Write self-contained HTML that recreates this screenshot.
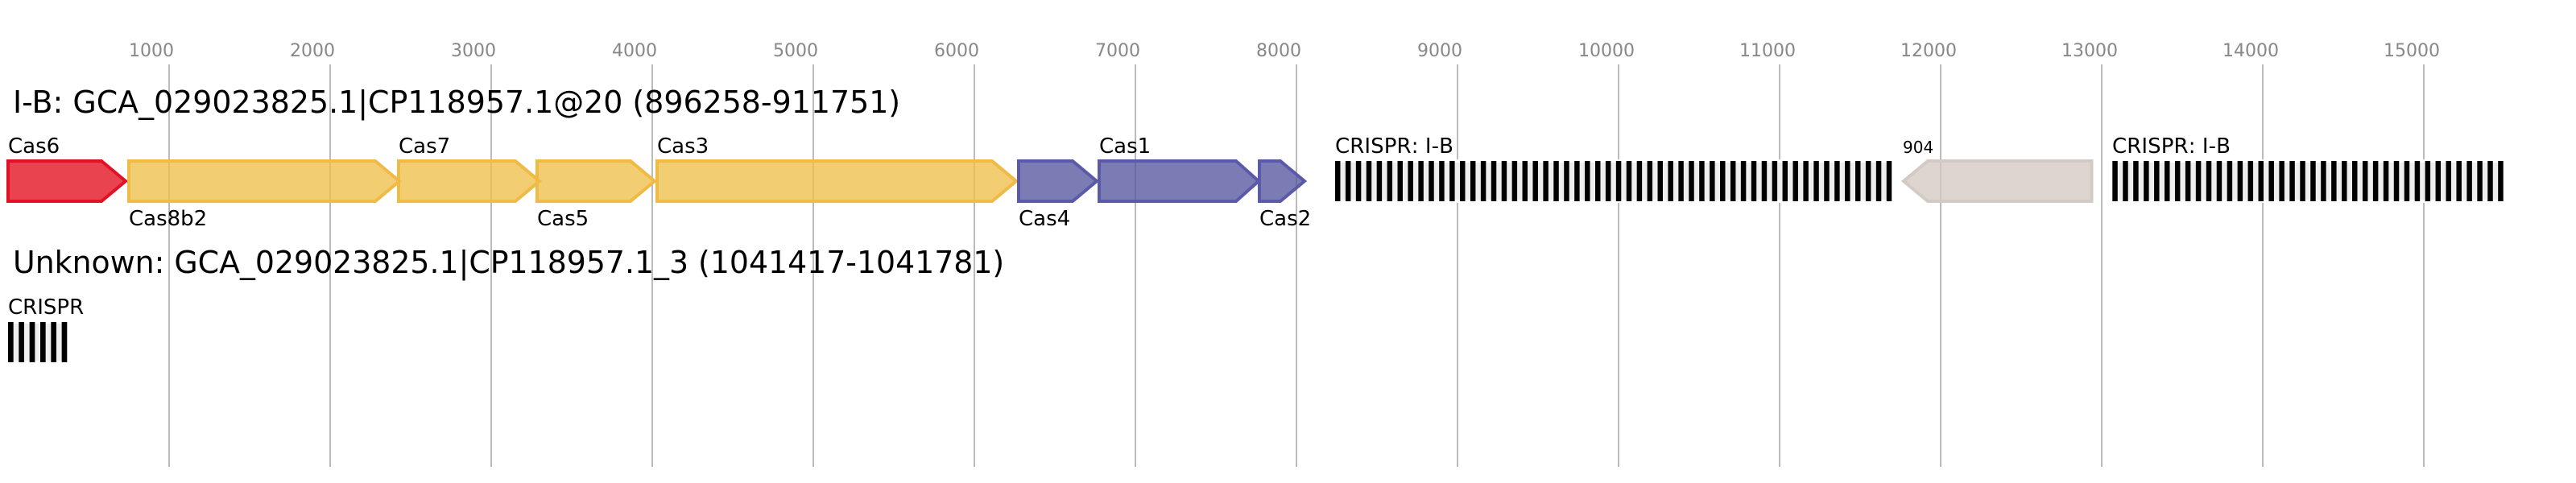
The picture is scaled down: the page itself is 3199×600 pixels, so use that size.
<!DOCTYPE html>
<html>
<head>
<meta charset="utf-8">
<style>
html,body{margin:0;padding:0;background:#fff;width:3199px;height:600px;overflow:hidden}
svg{display:block}
text{font-family:"DejaVu Sans",sans-serif;fill:#000}
.t{font-size:22px;fill:#888}
.l{font-size:26px}
.k{font-kerning:none}
.h{font-size:37.85px}
.g{stroke:#bbb;stroke-width:2}
.a{stroke-width:4;stroke-miterlimit:10}
.r{stroke:#e11226;fill:rgba(225,10,26,.77)}
.y{stroke:#efba46;fill:rgba(238,190,72,.77)}
.b{stroke:#5a5aa8;fill:rgba(85,85,159,.77)}
.n{stroke:#d3cac3;fill:rgba(210,200,194,.77)}
.c{fill:#eee;stroke:#fff;stroke-width:4}
.d{stroke:#000;stroke-width:50}
</style>
</head>
<body>
<svg xmlns="http://www.w3.org/2000/svg" width="3199" height="600" viewBox="0 0 3199 600">
<rect width="3199" height="600" fill="#fff"/>
<g class="g">
<line x1="210" x2="210" y1="80" y2="580"/>
<line x1="410" x2="410" y1="80" y2="580"/>
<line x1="610" x2="610" y1="80" y2="580"/>
<line x1="810" x2="810" y1="80" y2="580"/>
<line x1="1010" x2="1010" y1="80" y2="580"/>
<line x1="1210" x2="1210" y1="80" y2="580"/>
<line x1="1410" x2="1410" y1="80" y2="580"/>
<line x1="1610" x2="1610" y1="80" y2="580"/>
<line x1="1810" x2="1810" y1="80" y2="580"/>
<line x1="2010" x2="2010" y1="80" y2="580"/>
<line x1="2210" x2="2210" y1="80" y2="580"/>
<line x1="2410" x2="2410" y1="80" y2="580"/>
<line x1="2610" x2="2610" y1="80" y2="580"/>
<line x1="2810" x2="2810" y1="80" y2="580"/>
<line x1="3010" x2="3010" y1="80" y2="580"/>
</g>
<g class="t">
<text class="t" x="160" y="70">1000</text>
<text class="t" x="360" y="70">2000</text>
<text class="t" x="560" y="70">3000</text>
<text class="t" x="760" y="70">4000</text>
<text class="t" x="960" y="70">5000</text>
<text class="t" x="1160" y="70">6000</text>
<text class="t" x="1360" y="70">7000</text>
<text class="t" x="1560" y="70">8000</text>
<text class="t" x="1760" y="70">9000</text>
<text class="t" x="1960" y="70">10000</text>
<text class="t" x="2160" y="70">11000</text>
<text class="t" x="2360" y="70">12000</text>
<text class="t" x="2560" y="70">13000</text>
<text class="t" x="2760" y="70">14000</text>
<text class="t" x="2960" y="70">15000</text>
</g>
<text class="h" x="16" y="140" style="font-size:37.92px">I-B: GCA_029023825.1|CP118957.1@20 (896258-911751)</text>
<text class="h" x="16" y="339">Unknown: GCA_029023825.1|CP118957.1_3 (1041417-1041781)</text>

<polygon class="a r" points="10,200 126,200 156,225 126,250 10,250"/>
<polygon class="a y" points="160,200 466,200 496,225 466,250 160,250"/>
<polygon class="a y" points="495,200 640,200 670,225 640,250 495,250"/>
<polygon class="a y" points="667,200 783,200 813,225 783,250 667,250"/>
<polygon class="a y" points="816,200 1232,200 1262,225 1232,250 816,250"/>
<polygon class="a b" points="1265,200 1332,200 1362,225 1332,250 1265,250"/>
<polygon class="a b" points="1365,200 1535,200 1563,225 1535,250 1365,250"/>
<polygon class="a b" points="1564,200 1590,200 1620,225 1590,250 1564,250"/>
<polygon class="a n" points="2597.5,200 2394,200 2364,225 2394,250 2597.5,250"/>

<rect class="c" x="1658" y="200" width="691.3" height="50"/>
<line class="d" x1="1658" x2="2349.3" y1="225" y2="225" stroke-dasharray="6.46 6.46"/>
<rect class="c" x="2623.3" y="200" width="485.4" height="50"/>
<line class="d" x1="2623.3" x2="3108.7" y1="225" y2="225" stroke-dasharray="6.472 6.472"/>
<rect class="c" x="10" y="400" width="73.3" height="50"/>
<line class="d" x1="10" x2="83.3" y1="425" y2="425" stroke-dasharray="6.667 6.667"/>

<text class="l" x="10" y="190">Cas6</text>
<text class="l" x="160" y="280">Cas8b2</text>
<text class="l" x="495" y="190">Cas7</text>
<text class="l" x="667" y="280">Cas5</text>
<text class="l" x="816" y="190">Cas3</text>
<text class="l" x="1265" y="280">Cas4</text>
<text class="l" x="1365" y="190">Cas1</text>
<text class="l" x="1564" y="280">Cas2</text>
<text class="l k" x="1658" y="190" textLength="147">CRISPR: I-B</text>
<text x="2363" y="190" font-size="20">904</text>
<text class="l k" x="2623" y="190" textLength="147">CRISPR: I-B</text>
<text class="l" x="10" y="390">CRISPR</text>
</svg>
</body>
</html>
